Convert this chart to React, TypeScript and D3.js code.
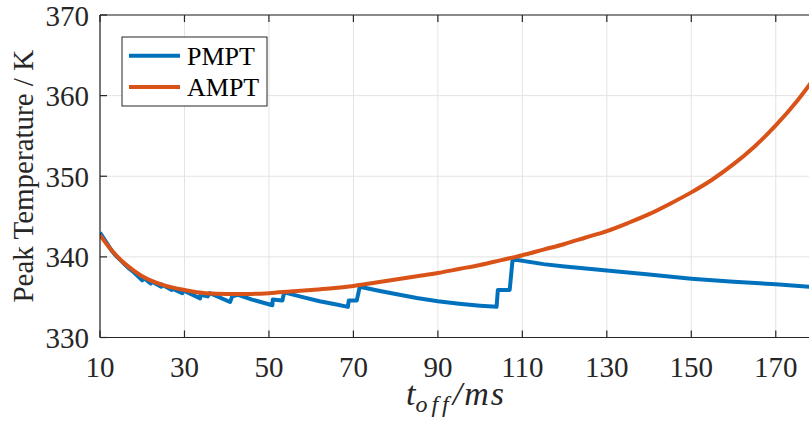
import React from 'react';
import { scaleLinear, line, curveMonotoneX } from 'd3';

// AMPT (smooth) peak temperature vs t_off
const amptT = [10, 12, 14, 16, 18, 20, 25, 30, 35, 40, 45, 50, 55, 60, 65, 70, 75, 80, 85, 90, 95, 100, 105, 110, 115, 120, 125, 130, 135, 140, 145, 150, 155, 160, 165, 170, 175, 180];
const amptK = [342.7, 341.3, 340.1, 339.1, 338.3, 337.6, 336.5, 335.9, 335.5, 335.4, 335.4, 335.5, 335.7, 335.9, 336.1, 336.4, 336.8, 337.2, 337.6, 338.0, 338.5, 339.0, 339.6, 340.2, 340.9, 341.6, 342.4, 343.2, 344.2, 345.3, 346.6, 348.0, 349.6, 351.5, 353.7, 356.3, 359.3, 362.8];

// PMPT (sawtooth) peak temperature vs t_off
const pmptT = [10, 11, 12, 13, 14, 15, 16, 17, 18, 20, 20, 22, 22, 24.5, 24.5, 27, 27, 29.5, 29.5, 33.7, 33.8, 35.5, 36, 40.8, 41.3, 42.7, 46, 50.8, 50.9, 53.2, 53.6, 58, 62, 66, 68.7, 68.9, 70.8, 71.5, 76, 80, 85, 90, 95, 100, 103.9, 104.2, 107, 107.7, 115, 120, 130, 140, 150, 160, 170, 180];
const pmptK = [343.0, 342.2, 341.4, 340.6, 340.0, 339.5, 339.0, 338.5, 338.1, 337.1, 337.5, 336.7, 337.0, 336.3, 336.6, 335.9, 336.1, 335.5, 335.9, 334.85, 335.3, 335.1, 335.5, 334.4, 335.1, 335.3, 334.7, 334.0, 334.7, 334.6, 335.6, 335.0, 334.5, 334.1, 333.8, 334.6, 334.6, 336.3, 335.8, 335.4, 334.9, 334.5, 334.2, 333.95, 333.8, 335.9, 335.9, 339.7, 339.1, 338.8, 338.3, 337.8, 337.3, 336.9, 336.6, 336.2];

const xTicks = [10, 30, 50, 70, 90, 110, 130, 150, 170];
const yTicks = [330, 340, 350, 360, 370];
const seriesNames = ['PMPT', 'AMPT'];
const colors = ['#0072BD', '#D95319'];

const W = 809;
const H = 422;
const left = 100;
const right = 818;
const top = 15;
const bottom = 337.5;
const font = 'Liberation Serif, Times New Roman, serif';
const axisColor = '#262626';

export default function App() {
  const x = scaleLinear().domain([10, 180]).range([left, right]);
  const y = scaleLinear().domain([330, 370]).range([bottom, top]);

  const path = line<[number, number]>()
    .x(d => x(d[0]))
    .y(d => y(d[1]));

  const amptPath = line<[number, number]>()
    .x(d => x(d[0]))
    .y(d => y(d[1]))
    .curve(curveMonotoneX);

  const pmpt = pmptT.map((t, i) => [t, pmptK[i]] as [number, number]);
  const ampt = amptT.map((t, i) => [t, amptK[i]] as [number, number]);

  const tick = 7;

  return (
    <svg width={W} height={H} style={{ position: 'absolute', left: 0, top: 0, background: '#fff' }}>
      <defs>
        <clipPath id="plot">
          <rect x={left} y={top} width={right - left} height={bottom - top} />
        </clipPath>
      </defs>

      {/* grid */}
      {xTicks.map(t => (
        <line key={'gx' + t} x1={x(t)} x2={x(t)} y1={top} y2={bottom} stroke="#e3e3e3" strokeWidth={1} />
      ))}
      {yTicks.map(t => (
        <line key={'gy' + t} x1={left} x2={right} y1={y(t)} y2={y(t)} stroke="#e3e3e3" strokeWidth={1} />
      ))}

      {/* data */}
      <g clipPath="url(#plot)">
        <path d={path(pmpt) || ''} fill="none" stroke={colors[0]} strokeWidth={4} strokeLinejoin="round" />
        <path d={amptPath(ampt) || ''} fill="none" stroke={colors[1]} strokeWidth={4} strokeLinejoin="round" />
      </g>

      {/* axes box */}
      <line x1={left} x2={right} y1={bottom} y2={bottom} stroke={axisColor} strokeWidth={1.2} />
      <line x1={left} x2={right} y1={top} y2={top} stroke={axisColor} strokeWidth={1.2} />
      <line x1={left} x2={left} y1={top} y2={bottom} stroke={axisColor} strokeWidth={1.2} />

      {xTicks.map(t => (
        <g key={'tx' + t}>
          <line x1={x(t)} x2={x(t)} y1={bottom} y2={bottom - tick} stroke={axisColor} strokeWidth={1.2} />
          <line x1={x(t)} x2={x(t)} y1={top} y2={top + tick} stroke={axisColor} strokeWidth={1.2} />
          <text x={x(t)} y={377} textAnchor="middle" fontFamily={font} fontSize={29} fill={axisColor}>{t}</text>
        </g>
      ))}
      {yTicks.map(t => (
        <g key={'ty' + t}>
          <line x1={left} x2={left + tick} y1={y(t)} y2={y(t)} stroke={axisColor} strokeWidth={1.2} />
          <text x={89} y={y(t) + 10.5} textAnchor="end" fontFamily={font} fontSize={29} fill={axisColor}>{t}</text>
        </g>
      ))}

      {/* axis labels */}
      <text
        transform={`translate(33, ${(top + bottom) / 2}) rotate(-90)`}
        textAnchor="middle"
        fontFamily={font}
        fontSize={29}
        fill={axisColor}
      >
        Peak Temperature / K
      </text>
      <text x={456} y={405} textAnchor="middle" fontFamily={font} fontSize={34} fontStyle="italic" fill={axisColor}>
        t<tspan fontSize={24} dy={7} letterSpacing={4}>off</tspan><tspan dy={-7} letterSpacing={2}>/ms</tspan>
      </text>

      {/* legend */}
      <rect x={122} y={37} width={145} height={69} fill="#fff" stroke={axisColor} strokeWidth={1} />
      {seriesNames.map((name, i) => {
        const ly = 55.7 + i * 31.3;
        return (
          <g key={name}>
            <line x1={129} x2={180} y1={ly} y2={ly} stroke={colors[i]} strokeWidth={4} />
            <text x={187} y={ly + 9} fontFamily={font} fontSize={26} fill="#000">{name}</text>
          </g>
        );
      })}
    </svg>
  );
}
